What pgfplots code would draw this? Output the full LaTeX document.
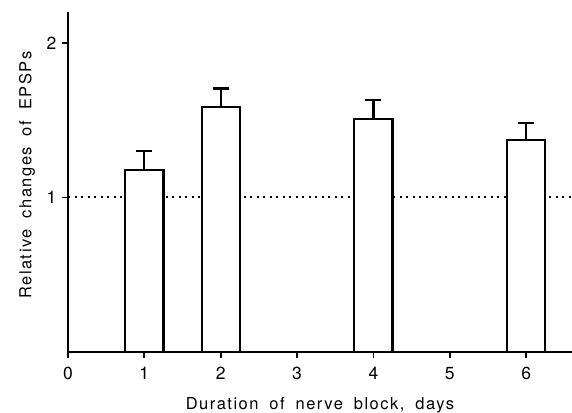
\documentclass[border=0pt]{standalone}
\usepackage{fontspec}
\setmainfont{TeX Gyre Heros}
\newfontfamily\lblfont{TeX Gyre Heros}[LetterSpace=9.0, WordSpace=1.8]
\usepackage{pgfplots}
\pgfplotsset{compat=1.18}

\begin{document}
\begin{tikzpicture}
  \path[use as bounding box] (-68pt,-60pt) rectangle (504pt,352pt);
  \begin{axis}[
      scale only axis,
      width=504pt, height=340pt,
      xmin=0, xmax=6.6,
      ymin=0, ymax=2.2,
      axis x line=bottom, axis y line=left,
      axis line style={-, line width=2pt},
      xtick={0,1,2,3,4,5,6},
      ytick={1,2},
      tick align=outside,
      major tick length=6pt,
      tick style={line width=1.8pt, black},
      /pgf/number format/assume math mode=true,
      tick label style={font=\fontsize{17.5}{20}\selectfont},
      xticklabel style={yshift=-6pt},
      yticklabel style={xshift=-2pt},
      label style={font=\fontsize{16.5}{20}\lblfont},
      xlabel={Duration of nerve block, days},
      ylabel={Relative changes of EPSPs},
      xlabel style={yshift=-10pt},
      ylabel style={at={(ticklabel cs:0.52)}, yshift=5pt},
      clip=false,
    ]
    \addplot[black, line width=2pt, dash pattern=on 2pt off 4.5pt]
      coordinates {(0,1) (6.6,1)};
    \addplot[
        ybar, bar width=0.5, fill=white, draw=black, line width=2.2pt,
        error bars/.cd, y dir=plus, y explicit,
        error bar style={line width=2.2pt},
        error mark options={rotate=90, mark size=8pt, line width=2.2pt},
      ]
      coordinates {
        (1,1.18) +- (0,0.12)
        (2,1.585) +- (0,0.12)
        (4,1.51) +- (0,0.12)
        (6,1.37) +- (0,0.11)
      };
  \end{axis}
\end{tikzpicture}
\end{document}
